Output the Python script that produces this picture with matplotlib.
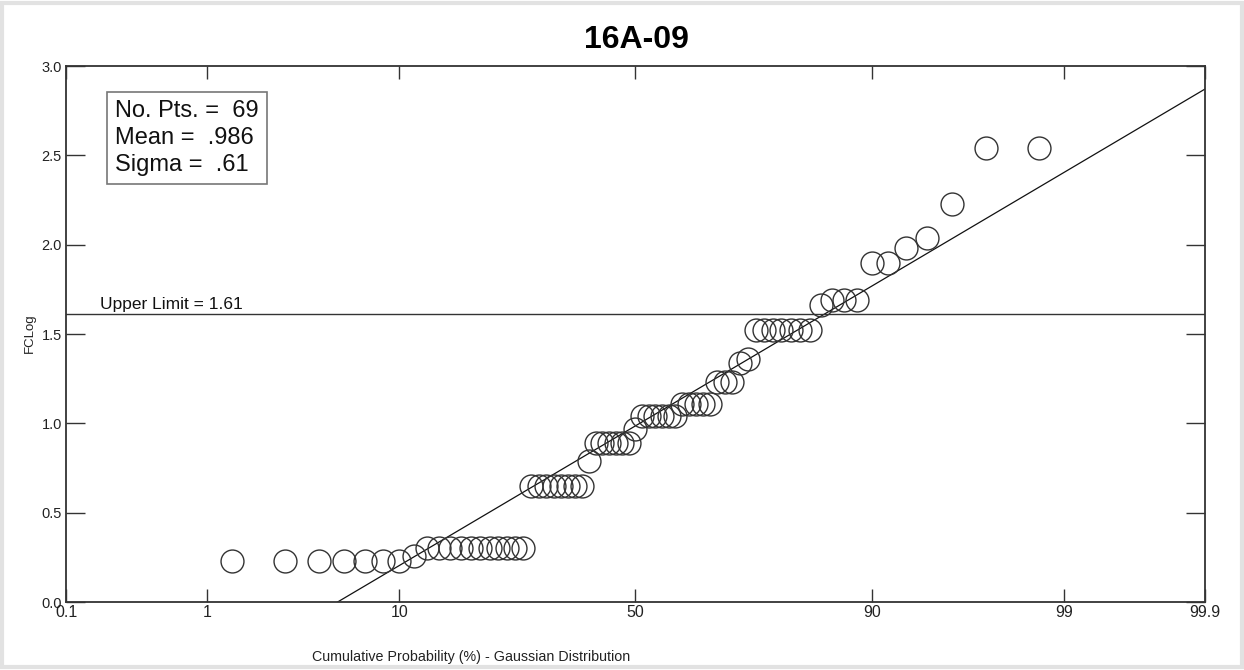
from statistics import NormalDist
import numpy as np
import matplotlib.pyplot as plt
from matplotlib.patches import Rectangle
import matplotlib.transforms as mtransforms

plt.rcParams['font.family'] = ['Liberation Sans', 'DejaVu Sans']

# data
title = "16A-09"
fclog = [0.23, 0.23, 0.23, 0.23, 0.23, 0.23, 0.23, 0.26,
         0.30, 0.30, 0.30, 0.30, 0.30, 0.30, 0.30, 0.30, 0.30, 0.30, 0.30,
         0.65, 0.65, 0.65, 0.65, 0.65, 0.65, 0.65, 0.65,
         0.79,
         0.89, 0.89, 0.89, 0.89, 0.89, 0.89,
         0.97,
         1.04, 1.04, 1.04, 1.04, 1.04, 1.04,
         1.11, 1.11, 1.11, 1.11, 1.11,
         1.23, 1.23, 1.23,
         1.34, 1.36,
         1.52, 1.52, 1.52, 1.52, 1.52, 1.52, 1.52,
         1.66, 1.69, 1.69, 1.69,
         1.90, 1.90, 1.98, 2.04, 2.23, 2.54, 2.54]
n_pts = 69
mean = 0.986
sigma = 0.61
upper_limit = 1.61
prob_ticks = [0.1, 1, 10, 50, 90, 99, 99.9]
prob_labels = ["0.1", "1", "10", "50", "90", "99", "99.9"]
y_ticks = [0.0, 0.5, 1.0, 1.5, 2.0, 2.5, 3.0]
y_labels = ["0.0", "0.5", "1.0", "1.5", "2.0", "2.5", "3.0"]

nd = NormalDist()
_ppf = np.vectorize(nd.inv_cdf, otypes=[float])
_cdf = np.vectorize(nd.cdf, otypes=[float])


def fwd(p):
    p = np.clip(np.asarray(p, dtype=float), 1e-9, 100 - 1e-9)
    return _ppf(p / 100.0)


def inv(z):
    return _cdf(np.asarray(z, dtype=float)) * 100.0


# plotting positions from rank
ranks = np.arange(1, len(fclog) + 1)
pos = ranks / (n_pts + 1) * 100.0

fig = plt.figure(figsize=(12.44, 6.7), dpi=100)
ax = fig.add_axes([66 / 1244, 1 - 602 / 670, 1139 / 1244, 536 / 670])
ax.set_xscale('function', functions=(fwd, inv))
ax.set_xlim(0.1, 99.9)
ax.set_ylim(0, 3)

ax.plot(pos, fclog, 'o', mfc='none', mec='#333333', ms=16.5, mew=1.0, clip_on=False, zorder=3)

xs = np.array([0.1, 99.9])
ax.plot(xs, mean + sigma * fwd(xs), color='#111111', lw=0.9)

ax.axhline(upper_limit, color='#333333', lw=1.0)
trans = mtransforms.blended_transform_factory(ax.transAxes, ax.transData)
ax.text(0.03, upper_limit + 0.015, "Upper Limit = 1.61", transform=trans,
        ha='left', va='bottom', fontsize=12.5, color='#111111')

ax.text(0.043, 0.937, "No. Pts. =  %d\nMean =  .986\nSigma =  .61" % n_pts,
        transform=ax.transAxes, ha='left', va='top', fontsize=17,
        linespacing=1.3, color='#111111',
        bbox=dict(boxstyle='square,pad=0.35', fc='white', ec='#777777', lw=1.2))

ax.set_xticks(prob_ticks)
ax.set_xticklabels(prob_labels)
ax.xaxis.set_minor_locator(plt.NullLocator())
ax.set_yticks(y_ticks)
ax.set_yticklabels(y_labels)
ax.tick_params(axis='x', direction='in', top=True, length=9.5, width=1,
               pad=2, labelsize=11.5, colors='#333333', labelcolor='#222222')
ax.tick_params(axis='y', direction='in', right=True, length=13.5, width=1,
               pad=3, labelsize=10.5, colors='#333333', labelcolor='#222222')
for s in ax.spines.values():
    s.set_color('#333333')
    s.set_linewidth(1.3)

fig.text(636 / 1244, 1 - 40 / 670, title, ha='center', va='center',
         fontsize=23, fontweight='bold')
fig.text(471 / 1244, 1 - 657 / 670, "Cumulative Probability (%) - Gaussian Distribution",
         ha='center', va='center', fontsize=10.3, color='#222222')
fig.text(30 / 1244, 1 - 333 / 670, "FCLog", ha='center', va='center',
         rotation=90, fontsize=9.5, color='#222222')

fig.patches.append(Rectangle((0.002, 0.004), 0.996, 0.992, transform=fig.transFigure,
                             fill=False, ec='#e2e2e2', lw=3))

fig.savefig('out.png', dpi=100)
